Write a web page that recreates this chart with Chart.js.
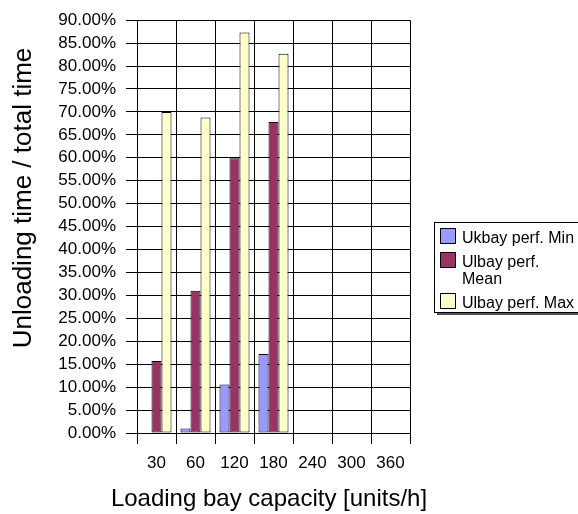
<!DOCTYPE html>
<html>
<head>
<meta charset="utf-8">
<script src="https://cdn.jsdelivr.net/npm/chart.js@4"></script>
<style>
  html, body { margin: 0; padding: 0; background: #fff; }
  #wrap { width: 578px; height: 514px; }
</style>
</head>
<body>
<div id="wrap"><canvas id="chart" width="578" height="514"></canvas></div>
<script>
// Chart data (values in %)
const capacities = ["30", "60", "120", "180", "240", "300", "360"];
const perfMin = [0, 1.0, 10.6, 17.2, 0, 0, 0];
const perfMean = [15.7, 31.0, 59.9, 67.8, 0, 0, 0];
const perfMax = [70.0, 68.8, 87.3, 82.7, 0, 0, 0];
const seriesNames = ["Ukbay perf. Min", "Ulbay perf. Mean", "Ulbay perf. Max"];
const seriesColors = ["#9999FF", "#993366", "#FFFFCC"];
const xTitle = "Loading bay capacity [units/h]";
const yTitle = "Unloading time / total time";

Chart.defaults.font.family = "'Liberation Sans', Arial, sans-serif";
Chart.defaults.color = "#000";

// Axis titles drawn by hand: Chart.js squeezes a title to the plot width,
// and Excel puts them slightly off the plot centre
const axisTitles = {
  id: "axisTitles",
  afterDraw(chart) {
    const ctx = chart.ctx;
    ctx.save();
    ctx.fillStyle = "#000";
    ctx.textAlign = "center";
    ctx.textBaseline = "alphabetic";
    ctx.font = "24px 'Liberation Sans', Arial, sans-serif";
    ctx.fillText(xTitle, 269, 506);

    ctx.font = "26px 'Liberation Sans', Arial, sans-serif";
    ctx.translate(24, 198);
    ctx.rotate(-Math.PI / 2);
    ctx.textBaseline = "middle";
    ctx.fillText(yTitle, 0, 0);
    ctx.restore();
  },
};

// Excel-like legend box on the right, with word wrap
const sideLegend = {
  id: "sideLegend",
  afterDraw(chart) {
    const ctx = chart.ctx;
    const boxLeft = 434, boxTop = 222, boxRight = 590;
    const swatch = 16, textX = 462, lineH = 17, maxW = 114;
    ctx.save();
    ctx.font = "16px 'Liberation Sans', Arial, sans-serif";

    // wrap labels
    const rows = chart.data.datasets.map((ds) => {
      const words = ds.label.split(" ");
      const lines = [];
      let cur = "";
      words.forEach((w) => {
        const test = cur ? cur + " " + w : w;
        if (ctx.measureText(test).width > maxW && cur) {
          lines.push(cur);
          cur = w;
        } else {
          cur = test;
        }
      });
      lines.push(cur);
      return { lines, color: ds.backgroundColor };
    });

    let y = boxTop + 6;
    const tops = [];
    rows.forEach((r) => {
      tops.push(y);
      y += r.lines.length * lineH + 7;
    });
    const boxBottom = y - 5;

    // shadow + frame
    ctx.fillStyle = "#555";
    ctx.fillRect(boxLeft + 3, boxBottom, boxRight - boxLeft, 3);
    ctx.fillStyle = "#fff";
    ctx.fillRect(boxLeft, boxTop, boxRight - boxLeft, boxBottom - boxTop);
    ctx.strokeStyle = "#000";
    ctx.lineWidth = 1;
    ctx.strokeRect(boxLeft + 0.5, boxTop + 0.5, boxRight - boxLeft, boxBottom - boxTop);

    rows.forEach((r, i) => {
      const t = tops[i];
      ctx.fillStyle = r.color;
      ctx.fillRect(440, t, swatch, swatch);
      ctx.strokeStyle = "#000";
      ctx.strokeRect(440.5, t + 0.5, swatch - 1, swatch - 1);
      ctx.fillStyle = "#000";
      ctx.textBaseline = "alphabetic";
      r.lines.forEach((ln, j) => {
        ctx.fillText(ln, textX, t + 15 + j * lineH);
      });
    });
    ctx.restore();
  },
};

new Chart(document.getElementById("chart"), {
  type: "bar",
  data: {
    labels: capacities,
    datasets: [
      { label: seriesNames[0], data: perfMin, backgroundColor: seriesColors[0] },
      { label: seriesNames[1], data: perfMean, backgroundColor: seriesColors[1] },
      { label: seriesNames[2], data: perfMax, backgroundColor: seriesColors[2] },
    ],
  },
  options: {
    responsive: false,
    animation: false,
    layout: { padding: { left: 10, top: 16, right: 168, bottom: 0 } },
    datasets: {
      bar: {
        categoryPercentage: 0.77,
        barPercentage: 1,
        borderColor: "#000",
        borderWidth: 1,
        borderSkipped: false,
      },
    },
    plugins: {
      legend: { display: false },
      tooltip: { enabled: false },
    },
    scales: {
      x: {
        grid: { color: "#000", tickLength: 11, offset: true },
        border: { color: "#000" },
        ticks: { font: { size: 17 }, padding: 9, maxRotation: 0, autoSkip: false },
        title: { display: false },
        afterFit(scale) { scale.height = 81; },
      },
      y: {
        min: 0,
        max: 90,
        grid: { color: "#000", tickLength: 11 },
        border: { color: "#000" },
        ticks: {
          stepSize: 5,
          font: { size: 17 },
          padding: 10,
          autoSkip: false,
          callback: (v) => v.toFixed(2) + "%",
        },
        title: { display: false },
        afterFit(scale) { scale.width = 127; },
      },
    },
  },
  plugins: [sideLegend, axisTitles],
});
</script>
</body>
</html>
